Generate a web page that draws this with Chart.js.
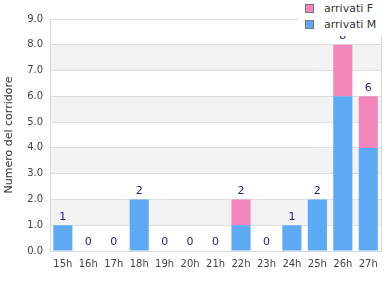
<!DOCTYPE html>
<html><head><meta charset="utf-8">
<script src="https://cdn.jsdelivr.net/npm/chart.js@4"></script>
<style>
html,body{margin:0;padding:0;background:#fff;}
#wrap{position:relative;width:390px;height:300px;}
#legend{position:absolute;left:299px;top:0px;width:91px;background:#fff;font:11px "DejaVu Sans",sans-serif;color:#333;padding:1px 0 3px 4px;box-sizing:border-box;}
#legend div{height:16px;line-height:16px;white-space:nowrap;}
#legend span{display:inline-block;width:7px;height:7px;border:1px solid #777;margin:0 10px 0 2px;vertical-align:-1px;}
</style></head>
<body>
<div id="wrap"><canvas id="c" width="390" height="300"></canvas>
<div id="legend"></div></div>
<script>
const categories = ["15h","16h","17h","18h","19h","20h","21h","22h","23h","24h","25h","26h","27h"];
const arrivatiM = [1,0,0,2,0,0,0,1,0,1,2,6,4];
const arrivatiF = [0,0,0,0,0,0,0,1,0,0,0,2,2];
const seriesNames = ["arrivati M","arrivati F"];
const seriesColors = ["#5ea9f4","#f285ba"];
const yTitle = "Numero del corridore";

const FONT = '"DejaVu Sans", sans-serif';

const bands = {
  id:'bands',
  beforeDraw(chart){
    const {ctx, chartArea:a, scales:{y}} = chart;
    ctx.save();
    ctx.fillStyle = '#f2f2f2';
    for(let v=1; v<9; v+=2){
      const t = y.getPixelForValue(v+1), b = y.getPixelForValue(v);
      ctx.fillRect(a.left, t, a.right-a.left, b-t);
    }
    ctx.restore();
  }
};
const totals = {
  id:'totals',
  afterDatasetsDraw(chart){
    const {ctx, scales:{x,y}} = chart;
    ctx.save();
    ctx.fillStyle = '#1c1c8c';
    ctx.font = '11px ' + FONT;
    ctx.textAlign = 'center';
    ctx.textBaseline = 'bottom';
    categories.forEach((c,i)=>{
      const tot = arrivatiM[i] + arrivatiF[i];
      ctx.fillText(String(tot), x.getPixelForValue(i), y.getPixelForValue(tot) - 3);
    });
    ctx.restore();
  }
};
const border = {
  id:'border',
  afterDraw(chart){
    const {ctx, chartArea:a} = chart;
    ctx.save();
    ctx.strokeStyle = '#d9d9d9';
    ctx.lineWidth = 1;
    ctx.beginPath();
    ctx.moveTo(Math.round(a.right)+0.5, a.top);
    ctx.lineTo(Math.round(a.right)+0.5, a.bottom);
    ctx.stroke();
    ctx.restore();
  }
};

new Chart(document.getElementById('c'), {
  type:'bar',
  data:{
    labels:categories,
    datasets:[
      {label:seriesNames[0], data:arrivatiM, backgroundColor:seriesColors[0], barPercentage:0.75, categoryPercentage:1},
      {label:seriesNames[1], data:arrivatiF, backgroundColor:seriesColors[1], barPercentage:0.75, categoryPercentage:1}
    ]
  },
  options:{
    responsive:false, animation:false,
    layout:{padding:{left:3,right:9,top:19,bottom:23}},
    plugins:{legend:{display:false}, tooltip:{enabled:false}},
    scales:{
      x:{stacked:true, grid:{display:false, drawTicks:false}, border:{color:'#d9d9d9'},
         ticks:{color:'#444', font:{family:FONT,size:10}, padding:7, maxRotation:0, autoSkip:false}},
      y:{stacked:true, min:0, max:9, border:{color:'#d9d9d9'},
         grid:{color:'#dedede', drawTicks:false},
         ticks:{stepSize:1, color:'#444', font:{family:FONT,size:10}, padding:7, callback:v=>v.toFixed(1)},
         title:{display:true, text:yTitle, color:'#333', font:{family:FONT,size:11}, padding:{top:0,bottom:4}}}
    }
  },
  plugins:[bands, totals, border]
});

const lg = document.getElementById('legend');
[1,0].forEach(i=>{
  const d = document.createElement('div');
  const s = document.createElement('span');
  s.style.background = seriesColors[i];
  d.appendChild(s);
  d.appendChild(document.createTextNode(seriesNames[i]));
  lg.appendChild(d);
});
</script>
</body></html>
